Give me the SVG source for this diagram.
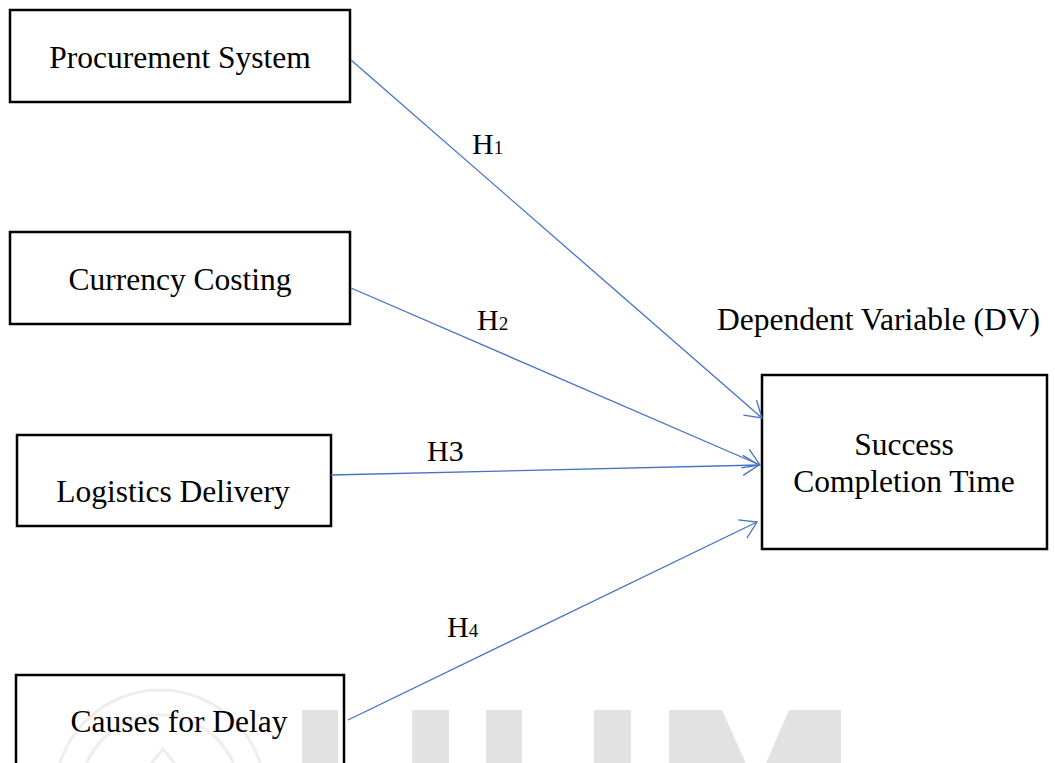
<svg xmlns="http://www.w3.org/2000/svg" width="1055" height="763" viewBox="0 0 1055 763">
<style>
.box{fill:none;stroke:#000;stroke-width:2.5}
.t{font-family:"Liberation Serif","Times New Roman",serif;font-size:31.5px;fill:#000}
.lbl{font-family:"Liberation Serif","Times New Roman",serif;font-size:30px;fill:#000}
.sub{font-size:19px}
.edge{fill:none;stroke:#4472C4;stroke-width:1.3}
.wm{fill:#e2e2e2}
.seal{fill:none;stroke:#eeeeee;stroke-width:3}
</style>
<defs>
<marker id="arr" viewBox="-18 -11 20 22" refX="0" refY="0" markerWidth="20" markerHeight="22" markerUnits="userSpaceOnUse" orient="auto">
<path d="M-16,-10 L0,0 L-16,10" fill="none" stroke="#4472C4" stroke-width="1.3"/>
</marker>
</defs>
<rect width="1055" height="763" fill="#fff"/>
<g id="watermark">
<circle class="seal" cx="160" cy="795" r="105"/>
<circle class="seal" cx="160" cy="795" r="80"/>
<polygon class="seal" points="163,749 112,812 214,812"/>
<rect class="wm" x="302" y="710" width="36" height="60"/>
<rect class="wm" x="412" y="710" width="37" height="60"/>
<rect class="wm" x="486" y="710" width="36" height="60"/>
<rect class="wm" x="594" y="710" width="37" height="60"/>
<polygon class="wm" points="669,710 722,710 756,786 789,710 841,710 841,770 669,770"/>
</g>
<g id="n-procurement">
<rect class="box" x="10" y="10" width="340" height="92"/>
<text class="t" x="180" y="68" text-anchor="middle">Procurement System</text>
</g>
<g id="n-currency">
<rect class="box" x="10" y="232" width="340" height="92"/>
<text class="t" x="180" y="290" text-anchor="middle">Currency Costing</text>
</g>
<g id="n-logistics">
<rect class="box" x="17" y="435" width="314" height="91"/>
<text class="t" x="173" y="502" text-anchor="middle">Logistics Delivery</text>
</g>
<g id="n-causes">
<rect class="box" x="16" y="675" width="328" height="120"/>
<text class="t" x="179" y="732" text-anchor="middle">Causes for Delay</text>
</g>
<g id="n-success">
<rect class="box" x="762" y="375" width="285" height="174"/>
<text class="t" x="904" y="455" text-anchor="middle">Success</text>
<text class="t" x="904" y="492" text-anchor="middle">Completion Time</text>
</g>
<g id="dv-label">
<text class="t" x="717" y="330">Dependent Variable (DV)</text>
</g>
<g id="connectors">
<line class="edge" x1="351" y1="60" x2="762" y2="418" marker-end="url(#arr)"/>
<line class="edge" x1="351" y1="288" x2="760" y2="465" marker-end="url(#arr)"/>
<line class="edge" x1="331" y1="475" x2="759" y2="465" marker-end="url(#arr)"/>
<line class="edge" x1="348" y1="720" x2="757" y2="522" marker-end="url(#arr)"/>
<text class="lbl" x="472" y="154">H<tspan class="sub">1</tspan></text>
<text class="lbl" x="477" y="330">H<tspan class="sub">2</tspan></text>
<text class="lbl" x="427" y="461">H3</text>
<text class="lbl" x="447" y="637">H<tspan class="sub">4</tspan></text>
</g>
</svg>
